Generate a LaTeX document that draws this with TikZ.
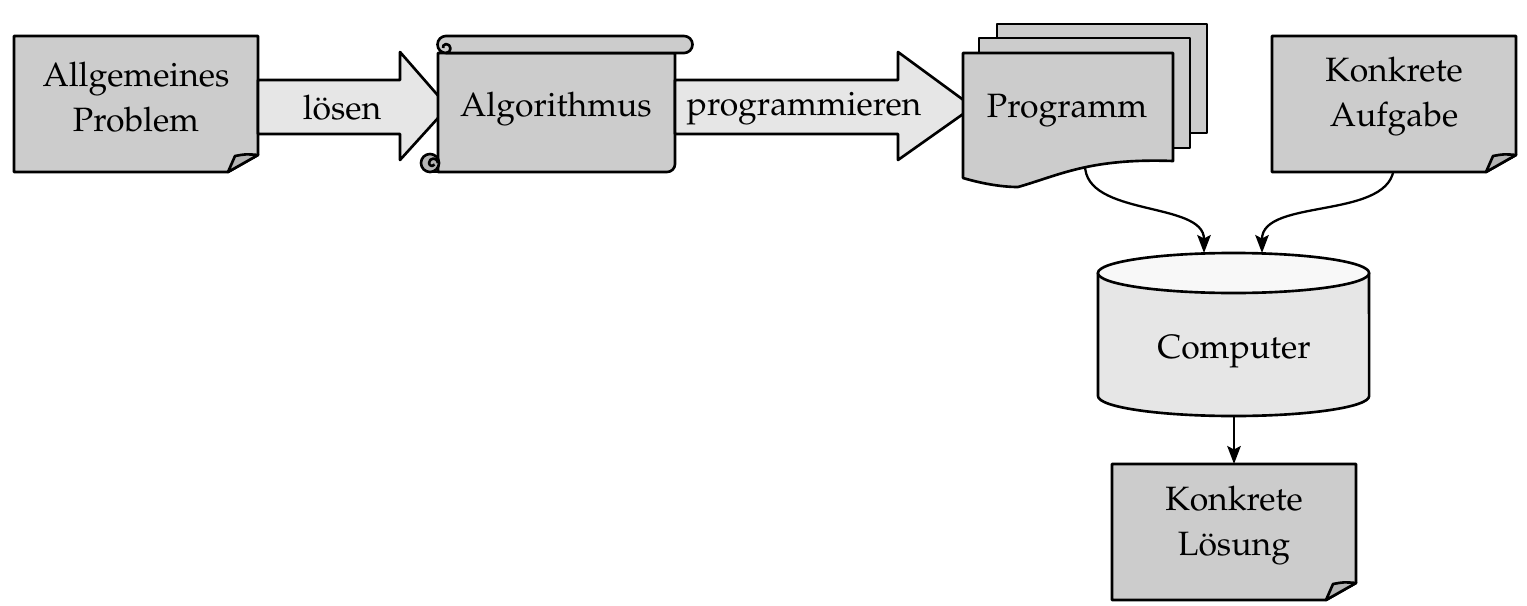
\documentclass[tikz,border=0pt]{standalone}
\usepackage[T1]{fontenc}
\usepackage{mathpazo}
\usetikzlibrary{arrows.meta}
\definecolor{boxgray}{HTML}{CCCCCC}
\definecolor{arrgray}{HTML}{E6E6E6}
\definecolor{flapgray}{HTML}{B4B4B4}
\definecolor{topgray}{HTML}{F8F8F8}
\tikzset{
  outl/.style={draw=black, line width=0.75pt, line join=round},
  label/.style={inner sep=0pt, align=center, font=\fontsize{9.6pt}{12.8pt}\selectfont},
  conn/.style={draw=black, line width=0.65pt, -{Stealth[length=1.8mm,width=1.35mm,inset=0.35mm]}},
}
\newcommand\drawnote[4]{% x1,y1,x2,y2 (px)
  \draw[outl, fill=boxgray] (#1,#2) -- (#3,#2) -- (#3,#4-17) -- (#3-30,#4) -- (#1,#4) -- cycle;
  \draw[outl, fill=flapgray] (#3-30,#4) .. controls (#3-27,#4-8) .. (#3-23,#4-16)
     .. controls (#3-12,#4-18) .. (#3,#4-17) -- cycle;
}
\begin{document}
\begin{tikzpicture}[x=0.01cm, y=-0.01cm]
\useasboundingbox (0,0) rectangle (1527,606);

% connectors first (lie under shapes)
\coordinate (progout) at (1085,165);
\coordinate (aufout) at (1394,165);
\coordinate (compinA) at (1204,253);
\coordinate (compinB) at (1262,253);
\coordinate (compout) at (1234,416);
\coordinate (loesin) at (1234,464);
\draw[conn] (progout) to[out=-90,in=90,looseness=0.9] (compinA);
\draw[conn] (aufout) to[out=-90,in=90,looseness=0.9] (compinB);
\draw[conn] (compout) -- (loesin);

% Allgemeines Problem
\drawnote{14}{36}{258}{172}
\node[label] (prob) at (136,97) {Allgemeines\\Problem};

% arrow loesen
\draw[outl, fill=arrgray] (258,80) -- (400,80) -- (400,52) -- (448,107) -- (400,160) -- (400,134) -- (258,134) -- cycle;
\node[label] (loesen) at (342,108) {l\"osen};

% Algorithmus scroll
\draw[outl, fill=boxgray] (438,53) -- (438,172) -- (667,172) arc[start angle=-90,end angle=0,radius=0.08cm] -- (675,53) -- cycle;
\draw[outl, fill=boxgray] (446,36) -- (684,36) arc[start angle=90,end angle=-90,radius=0.085cm] -- (446,53) arc[start angle=270,end angle=90,radius=0.085cm] -- cycle;
\draw[outl] (446,53) arc[start angle=-90,end angle=90,radius=0.045cm] arc[start angle=90,end angle=200,radius=0.03cm];
\draw[outl, fill=flapgray] (430,163) circle[radius=0.09cm];
\draw[outl] (430,172) -- (440,172);
\draw[outl] (438,163) arc[start angle=0,end angle=180,radius=0.045cm] arc[start angle=180,end angle=330,radius=0.03cm];
\node[label] (algo) at (556,109) {Algorithmus};

% arrow programmieren
\draw[outl, fill=arrgray] (675,80) -- (898,80) -- (898,52) -- (973,107) -- (898,160) -- (898,134) -- (675,134) -- cycle;
\node[label] (progr) at (804,109) {programmieren};

% Programm (stacked documents)
\draw[outl, fill=boxgray] (997,24) rectangle (1207,133);
\draw[outl, fill=boxgray] (979,38) rectangle (1190,148);
\draw[outl, fill=boxgray] (963,53) -- (1173,53) -- (1173,161)
   .. controls (1090,158) and (1060,175) .. (1018,187)
   .. controls (1000,187) and (980,183) .. (963,178) -- cycle;
\node[label] (prog) at (1067,111) {Programm};

% Konkrete Aufgabe
\drawnote{1272}{36}{1516}{172}
\node[label] (aufg) at (1394,97) {Konkrete\\Aufgabe};

% Computer cylinder
\draw[outl, fill=arrgray] (1098,273) -- (1098,396) arc[start angle=180,end angle=360,x radius=1.355cm,y radius=0.2cm] -- (1369,273) -- cycle;
\draw[outl, fill=topgray] (1233.5,273) ellipse[x radius=1.355cm,y radius=0.2cm];
\node[label] (comp) at (1234,352) {Computer};

% Konkrete Loesung
\drawnote{1112}{464}{1356}{600}
\node[label] (loes) at (1234,526) {Konkrete\\L\"osung};
\end{tikzpicture}
\end{document}
